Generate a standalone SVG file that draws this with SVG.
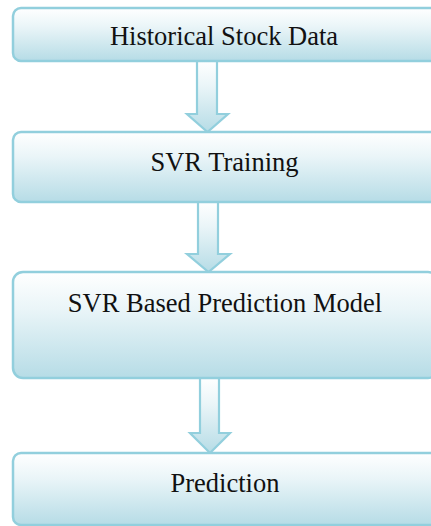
<svg xmlns="http://www.w3.org/2000/svg" width="431" height="526" viewBox="0 0 431 526">
<defs>
<linearGradient id="g" x1="0" y1="0" x2="0" y2="1">
<stop offset="0" stop-color="#ffffff"/>
<stop offset="0.35" stop-color="#eaf5f8"/>
<stop offset="1" stop-color="#b6dce6"/>
</linearGradient>
</defs>
<style>
.box{fill:url(#g);stroke:#92cfdd;stroke-width:2.5}
.arr{fill:url(#g);stroke:#92cfdd;stroke-width:2.2;stroke-linejoin:miter}
text{font-family:"Liberation Serif","Times New Roman",serif;font-size:26.5px;fill:#111;text-anchor:middle}
</style>
<g id="connectors">
<path class="arr" d="M197,61 L217,61 L217,114 L228,114 L207.5,132 L187,114 L197,114 Z"/>
<path class="arr" d="M198,202 L218,202 L218,254 L230,254 L208.5,272 L187,254 L198,254 Z"/>
<path class="arr" d="M200,378 L219,378 L219,433 L230,433 L210,453 L190,433 L200,433 Z"/>
</g>
<g id="n1"><rect class="box" x="13" y="8" width="425" height="53" rx="8"/><text x="224" y="45">Historical Stock Data</text></g>
<g id="n2"><rect class="box" x="13" y="132" width="425" height="70" rx="8"/><text x="224.5" y="171">SVR Training</text></g>
<g id="n3"><rect class="box" x="13" y="272" width="425" height="106" rx="10"/><text x="225" y="312">SVR Based Prediction Model</text></g>
<g id="n4"><rect class="box" x="13" y="453" width="425" height="72" rx="8"/><text x="225" y="492">Prediction</text></g>
</svg>
